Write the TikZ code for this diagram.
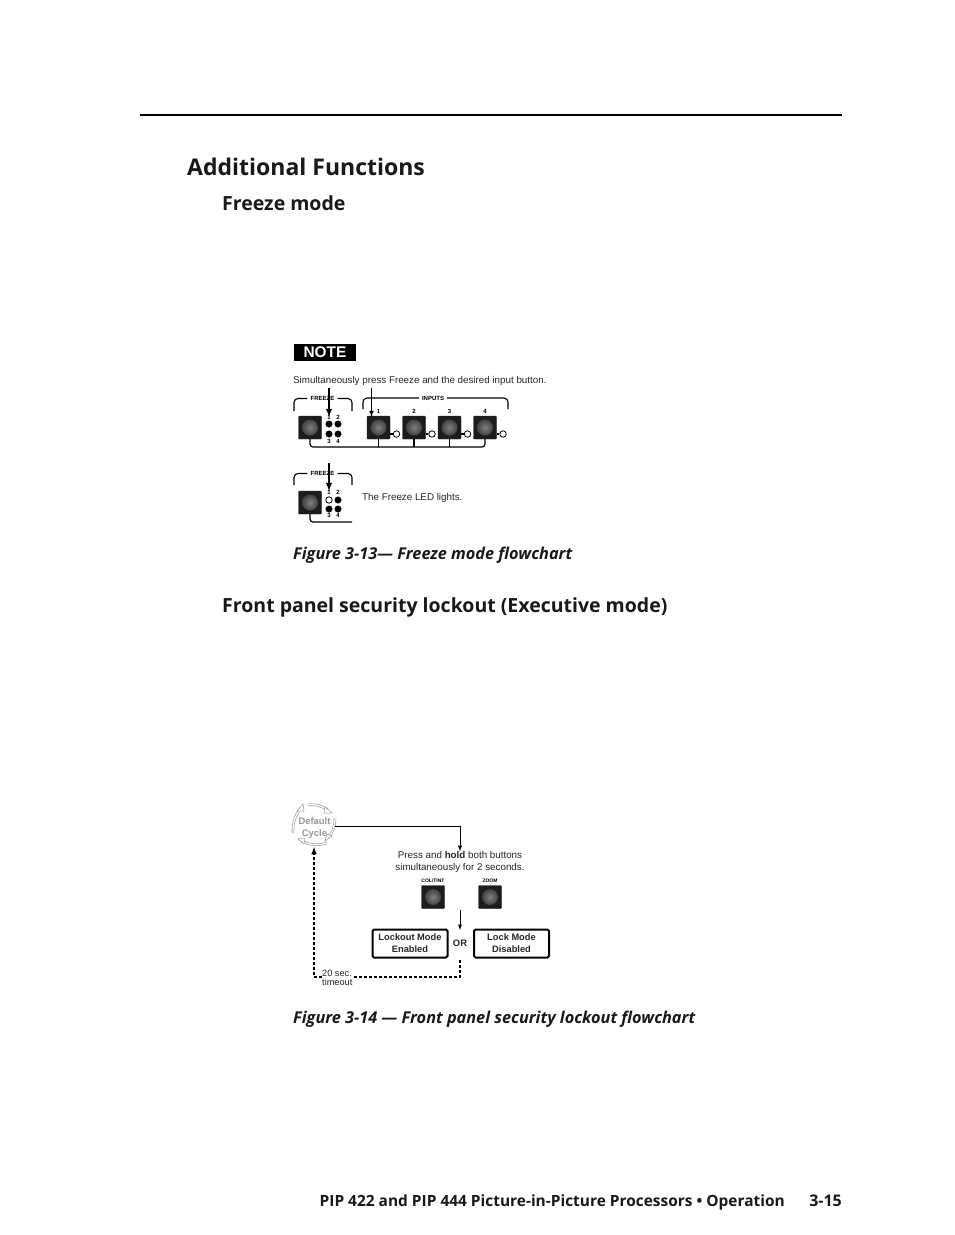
\documentclass[tikz,border=0pt]{standalone}
\usepackage{fontspec}
\setmainfont{Liberation Sans}
\newfontfamily\headfont{Open Sans}
\usetikzlibrary{shapes.geometric, arrows, positioning}
\definecolor{ledblack}{RGB}{28, 28, 28}
\definecolor{cyclegray}{RGB}{150, 150, 150}
\tikzset{
  panelbtn/.style={draw=ledblack, fill=ledblack, rectangle, rounded corners=1pt, minimum size=23pt, inner sep=0pt,
    path picture={\shade[inner color=black!50, outer color=black!85] (path picture bounding box.center) circle (8pt);}},
  ledon/.style={draw=black, fill=black, circle, minimum size=6.5pt, inner sep=0pt},
  ledoff/.style={draw=black, fill=white, circle, line width=0.8pt, minimum size=6.5pt, inner sep=0pt},
  tinylabel/.style={font=\bfseries\fontsize{6}{6}\selectfont, inner sep=3pt, fill=white},
  numlabel/.style={font=\bfseries\fontsize{6}{6}\selectfont, inner sep=0pt},
  bodytext/.style={font=\fontsize{9.8}{12}\selectfont, inner sep=0pt, align=center, text=black!85},
  modebox/.style={draw=black, line width=2pt, rounded corners=1.5pt, minimum width=75pt, minimum height=28pt, inner sep=0pt, align=center, font=\bfseries\fontsize{9.3}{12}\selectfont, text=black!85},
  heading/.style={font=\headfont\bfseries\fontsize{19.5}{22}\selectfont, anchor=west, inner sep=0pt, text=black!90},
  caption/.style={font=\headfont\bfseries\itshape\fontsize{16.3}{18}\selectfont, anchor=west, inner sep=0pt, text=black!90},
  bracket/.style={line width=1.1pt, rounded corners=4pt},
  pressarrow/.style={-latex, line width=1.8pt},
  flowline/.style={line width=1.2pt},
  thinline/.style={line width=0.9pt},
  timeoutline/.style={line width=1.5pt, dash pattern=on 3pt off 2pt},
  cyclearc/.style={draw=cyclegray, double=white, double distance=1.3pt, line width=0.6pt},
}
\begin{document}
\begin{tikzpicture}[x=1pt, y=-1pt]
  \useasboundingbox (0,0) rectangle (954,1235);
  \fill[white] (0,0) rectangle (954,1235);
  % page head
  \coordinate (ruleL) at (140,115);
  \coordinate (ruleR) at (842,115);
  \draw[line width=2pt] (ruleL) -- (ruleR);
  \node[heading, font=\headfont\bfseries\fontsize{23}{26}\selectfont] (title) at (187,167) {Additional Functions};
  \node[heading] (freezehead) at (222,203) {Freeze mode};
  \node[heading] (lockhead) at (222,607) {Front panel security lockout (Executive mode)};

  % first flowchart
  \node[fill=black, text=white, font=\bfseries\fontsize{15.4}{15}\selectfont, minimum width=62pt, minimum height=17pt, inner sep=0pt] (note) at (325,352.5) {NOTE};
  \node[bodytext, anchor=west] (presstext) at (293,381) {Simultaneously press Freeze and the desired input button.};
  \node[panelbtn] (btnfreeze) at (310,427.5) {};
  \node[panelbtn] (btnone) at (378.5,427.5) {};
  \node[panelbtn] (btntwo) at (414,427.5) {};
  \node[panelbtn] (btnthree) at (449.5,427.5) {};
  \node[panelbtn] (btnfour) at (485,427.5) {};
  \node[ledon] (leda) at (329,424) {};
  \node[ledon] (ledb) at (338,424) {};
  \node[ledon] (ledc) at (329,434) {};
  \node[ledon] (ledd) at (338,434) {};
  \node[numlabel] (numa) at (329,417) {1};
  \node[numlabel] (numb) at (338,417) {2};
  \node[numlabel] (numc) at (329,441) {3};
  \node[numlabel] (numd) at (338,441) {4};
  \node[ledoff] (ledone) at (396.5,434) {};
  \node[ledoff] (ledtwo) at (432,434) {};
  \node[ledoff] (ledthree) at (467.5,434) {};
  \node[ledoff] (ledfour) at (503,434) {};
  \draw[flowline] (btnone.east |- ledone) -- (ledone);
  \draw[flowline] (btntwo.east |- ledtwo) -- (ledtwo);
  \draw[flowline] (btnthree.east |- ledthree) -- (ledthree);
  \draw[flowline] (btnfour.east |- ledfour) -- (ledfour);
  \node[tinylabel] (inlabel) at (433,398) {INPUTS};
  \node[numlabel] (inone) at (378.5,411) {1};
  \node[numlabel] (intwo) at (414,411) {2};
  \node[numlabel] (inthree) at (449.5,411) {3};
  \node[numlabel] (infour) at (485,411) {4};
  \node[tinylabel] (frlabel) at (322.5,398.5) {FREEZE};
  \draw[bracket] (294,411) |- (frlabel.west);
  \draw[bracket] (frlabel.east) -| (352,411);
  \draw[bracket] (363,409) |- (inlabel.west);
  \draw[bracket] (inlabel.east) -| (508,409);
  \coordinate (busL) at (310,447);
  \coordinate (busR) at (485,447);
  \draw[flowline, rounded corners=3pt] (btnfreeze.south) -- (busL) -- (busR) -- (btnfour.south);
  \draw[flowline] (btnone.south) -- (btnone.south |- busL);
  \draw[flowline] (btntwo.south) -- (btntwo.south |- busL);
  \draw[flowline] (btnthree.south) -- (btnthree.south |- busL);
  \coordinate (arrowA) at (329,388);
  \coordinate (arrowB) at (371.5,388);
  \draw[pressarrow] (arrowA) -- (329,417);
  \draw[-latex, line width=1.1pt] (arrowB) -- (371.5,417);

  % freeze led lit
  \node[tinylabel] (frlabelb) at (322.5,473.5) {FREEZE};
  \draw[bracket] (294,485) |- (frlabelb.west);
  \draw[bracket] (frlabelb.east) -| (352,485);
  \node[panelbtn] (btnfreezeb) at (310,502.5) {};
  \node[ledoff] (ledlit) at (329,500) {};
  \node[ledon] (ledf) at (338,500) {};
  \node[ledon] (ledg) at (329,509) {};
  \node[ledon] (ledh) at (338,509) {};
  \node[numlabel] (nume) at (329,492) {1};
  \node[numlabel] (numf) at (338,492) {2};
  \node[numlabel] (numg) at (329,515.5) {3};
  \node[numlabel] (numh) at (338,515.5) {4};
  \coordinate (busB) at (352,522);
  \draw[flowline, rounded corners=3pt] (btnfreezeb.south) |- (busB);
  \coordinate (arrowC) at (329,463);
  \draw[pressarrow] (arrowC) -- (329,491);
  \node[bodytext, anchor=west] (littext) at (362,498) {The Freeze LED lights.};
  \node[caption] (capa) at (293,555) {Figure 3-13— Freeze mode flowchart};

  % second flowchart
  \node[font=\bfseries\fontsize{9.4}{11.5}\selectfont, text=cyclegray, align=center, inner sep=0pt] (cycle) at (314.5,828) {Default\\Cycle};
  \draw[cyclearc] (308,805) to[bend left=20] (328,810);
  \draw[cyclearc] (335,818) to[bend left=20] (328,838);
  \draw[cyclearc] (327,843) to[bend left=20] (301,841);
  \draw[cyclearc] (293,833) to[bend left=20] (301,808);
  \draw[draw=cyclegray, fill=white, line width=0.5pt] (325,807) -- (332,813) -- (324,813) -- cycle;
  \draw[draw=cyclegray, fill=white, line width=0.5pt] (332,836) -- (325,841) -- (327,834) -- cycle;
  \draw[draw=cyclegray, fill=white, line width=0.5pt] (304,844) -- (298,839) -- (305,838) -- cycle;
  \draw[draw=cyclegray, fill=white, line width=0.5pt] (297,811) -- (303,804) -- (304,811) -- cycle;
  \coordinate (turn) at (460,826.5);
  \coordinate (cycleout) at (335,826.5);
  \node[bodytext] (holdtext) at (460,862) {Press and \textbf{hold} both buttons\\simultaneously for 2 seconds.};
  \draw[thinline, -latex] (cycleout) -- (turn) -- (holdtext.north -| turn);
  \node[tinylabel, font=\bfseries\fontsize{5}{6}\selectfont, inner sep=0.5pt] (collabel) at (433,881) {COL/TINT};
  \node[tinylabel, font=\bfseries\fontsize{5}{6}\selectfont, inner sep=0.5pt] (zoomlabel) at (490,881) {ZOOM};
  \node[panelbtn] (btncol) at (433,897) {};
  \node[panelbtn] (btnzoom) at (490,897) {};
  \node[modebox] (lockout) at (410,943.5) {Lockout Mode\\Enabled};
  \node[modebox] (lockmode) at (511.5,943.5) {Lock Mode\\Disabled};
  \node[font=\bfseries\fontsize{9.4}{9}\selectfont, inner sep=0pt, text=black!85] (ortext) at (460,943) {OR};
  \coordinate (downtop) at (460,910);
  \coordinate (downend) at (460,930);
  \draw[thinline, -latex] (downtop) -- (downend);
  \coordinate (orbottom) at (460,960);
  \coordinate (corner) at (460,977);
  \coordinate (cornerb) at (314,977);
  \coordinate (cycleend) at (314,847);
  \draw[timeoutline, -latex] (orbottom) -- (corner) -- (cornerb) -- (cycleend);
  \node[font=\fontsize{9.2}{9.5}\selectfont, fill=white, inner sep=0.5pt, align=left, anchor=west, text=black!85] (timeout) at (321.5,978) {20 sec.\\timeout};

  % page foot
  \node[heading, font=\headfont\bfseries\fontsize{15.45}{18}\selectfont, anchor=east] (foot) at (785,1202.5) {PIP 422 and PIP 444 Picture-in-Picture Processors • Operation};
  \node[heading, font=\headfont\bfseries\fontsize{16}{18}\selectfont, anchor=east] (pagenum) at (842,1201) {3-15};
  \node[caption] (capb) at (293,1019) {Figure 3-14 — Front panel security lockout flowchart};
\end{tikzpicture}
\end{document}
